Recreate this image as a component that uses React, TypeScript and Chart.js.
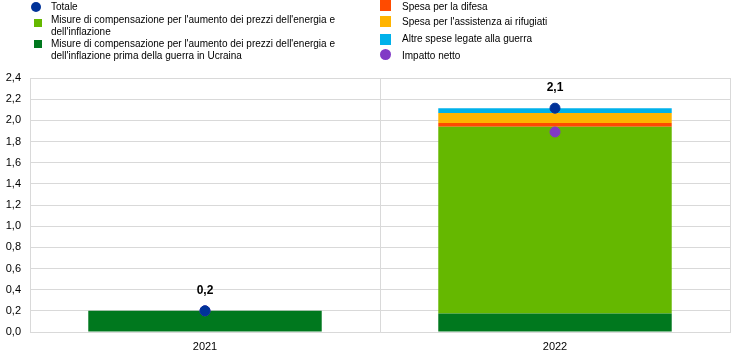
import React, { useEffect, useRef } from "react";
import { Chart, registerables } from "chart.js";

Chart.register(...registerables);

const categories = ["2021", "2022"];
const preWarMeasures = [0.2, 0.175];
const energyMeasures = [0, 1.765];
const defence = [0, 0.035];
const refugees = [0, 0.095];
const otherWar = [0, 0.045];
const total = [0.2, 2.115];
const netImpact = [0.2, 1.89];
const totalLabels = ["0,2", "2,1"];

const C_TOTAL = "#003299";
const C_LGREEN = "#65B800";
const C_DGREEN = "#00781E";
const C_RED = "#FF4B00";
const C_ORANGE = "#FFB400";
const C_BLUE = "#00B1EA";
const C_PURPLE = "#8139C6";

const FONT = "Arial, 'Liberation Sans', sans-serif";

const labelPlugin = {
  id: "totLabels",
  afterDatasetsDraw(chart: any) {
    const meta = chart.getDatasetMeta(0);
    const ctx = chart.ctx;
    ctx.save();
    ctx.font = `bold 12px ${FONT}`;
    ctx.fillStyle = "#000";
    ctx.textAlign = "center";
    ctx.textBaseline = "middle";
    meta.data.forEach((pt: any, i: number) => {
      ctx.fillText(totalLabels[i], pt.x, pt.y - 20);
    });
    ctx.restore();
  },
};

function LegendItem(props: { x: number; y: number; color: string; circle?: boolean; size: number; tx: number; ty: number; width: number; text: string }) {
  const { x, y, color, circle, size, tx, ty, width, text } = props;
  return (
    <>
      <div
        style={{
          position: "absolute",
          left: x,
          top: y,
          width: size,
          height: size,
          background: color,
          borderRadius: circle ? "50%" : 0,
        }}
      />
      <div
        style={{
          position: "absolute",
          left: tx,
          top: ty,
          width,
          fontFamily: FONT,
          fontSize: 10,
          lineHeight: "11.5px",
          color: "#000",
        }}
      >
        {text}
      </div>
    </>
  );
}

export default function App() {
  const ref = useRef<HTMLCanvasElement | null>(null);
  useEffect(() => {
    if (!ref.current) return;
    const pointDs = (label: string, data: number[], color: string, stack: string) => ({
      type: "line" as const,
      label,
      data,
      showLine: false,
      pointRadius: 5,
      pointHoverRadius: 5,
      pointBackgroundColor: color,
      pointBorderColor: color,
      borderColor: color,
      backgroundColor: color,
      stack,
    });
    const barDs = (label: string, data: number[], color: string) => ({
      type: "bar" as const,
      label,
      data,
      backgroundColor: color,
      borderWidth: 0,
      stack: "bars",
      barPercentage: 0.667,
      categoryPercentage: 1,
    });
    const chart = new Chart(ref.current, {
      type: "bar",
      data: {
        labels: categories,
        datasets: [
          pointDs("Totale", total, C_TOTAL, "tot"),
          pointDs("Impatto netto", netImpact, C_PURPLE, "net"),
          barDs("Misure prima della guerra", preWarMeasures, C_DGREEN),
          barDs("Misure", energyMeasures, C_LGREEN),
          barDs("Spesa per la difesa", defence, C_RED),
          barDs("Spesa per l'assistenza ai rifugiati", refugees, C_ORANGE),
          barDs("Altre spese legate alla guerra", otherWar, C_BLUE),
        ] as any,
      },
      options: {
        animation: false,
        responsive: false,
        maintainAspectRatio: false,
        layout: { padding: { top: 78, right: 14, left: 0, bottom: 0 } },
        plugins: { legend: { display: false }, tooltip: { enabled: false } },
        scales: {
          x: {
            stacked: true,
            grid: { offset: true, color: "#d9d9d9", drawTicks: false },
            border: { display: true, color: "#d9d9d9" },
            ticks: { font: { family: FONT, size: 11 }, color: "#000", padding: 8 },
            afterFit: (s: any) => {
              s.height = 28;
            },
          },
          y: {
            stacked: true,
            min: 0,
            max: 2.4,
            grid: { color: "#d9d9d9", drawTicks: false },
            border: { display: true, color: "#d9d9d9" },
            ticks: {
              stepSize: 0.2,
              font: { family: FONT, size: 11 },
              color: "#000",
              padding: 9,
              callback: (v: any) => Number(v).toFixed(1).replace(".", ","),
            },
            afterFit: (s: any) => {
              s.width = 30;
            },
          },
        },
      },
      plugins: [labelPlugin],
    });
    return () => chart.destroy();
  }, []);

  return (
    <div style={{ position: "fixed", left: 0, top: 0, width: 744, height: 360, background: "#fff" }}>
      <canvas ref={ref} width={744} height={360} style={{ position: "absolute", left: 0, top: 0 }} />
      <LegendItem x={31} y={2} size={10} circle color={C_TOTAL} tx={51} ty={1} width={300} text="Totale" />
      <LegendItem x={34} y={19} size={8} color={C_LGREEN} tx={51} ty={14} width={300} text="Misure di compensazione per l'aumento dei prezzi dell'energia e dell'inflazione" />
      <LegendItem x={34} y={40} size={8} color={C_DGREEN} tx={51} ty={38} width={300} text="Misure di compensazione per l'aumento dei prezzi dell'energia e dell'inflazione prima della guerra in Ucraina" />
      <LegendItem x={380} y={0} size={11} color={C_RED} tx={402} ty={1} width={300} text="Spesa per la difesa" />
      <LegendItem x={380} y={16} size={11} color={C_ORANGE} tx={402} ty={16} width={300} text="Spesa per l'assistenza ai rifugiati" />
      <LegendItem x={380} y={34} size={11} color={C_BLUE} tx={402} ty={33} width={300} text="Altre spese legate alla guerra" />
      <LegendItem x={380} y={49} size={11} circle color={C_PURPLE} tx={402} ty={50} width={300} text="Impatto netto" />
    </div>
  );
}
